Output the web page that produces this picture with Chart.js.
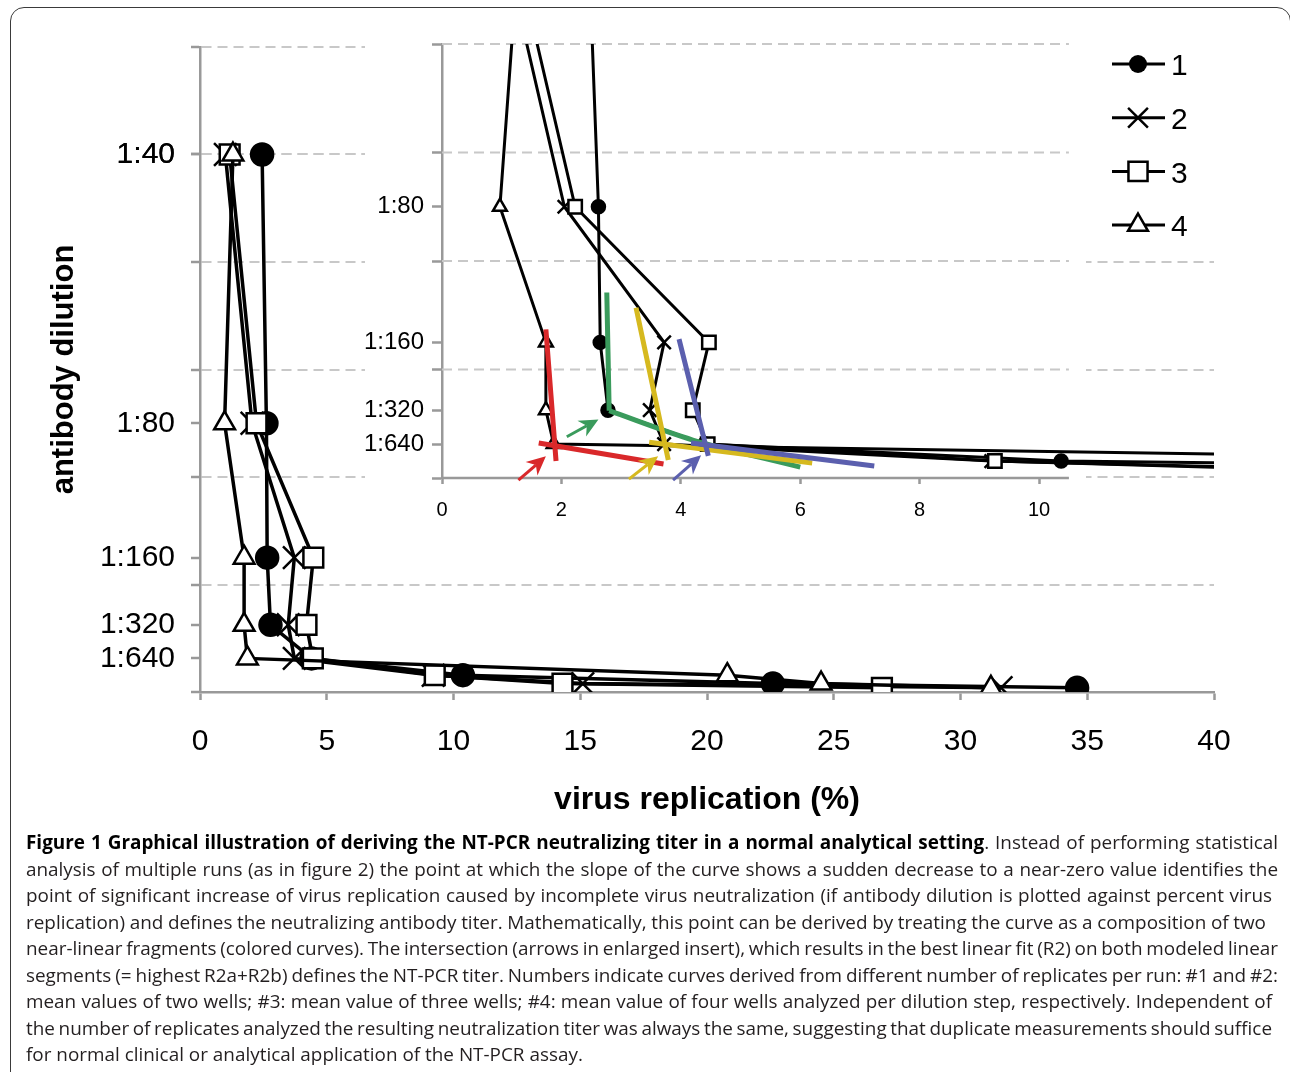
<!DOCTYPE html>
<html>
<head>
<meta charset="utf-8">
<script src="https://cdn.jsdelivr.net/npm/chart.js@4.4.1/dist/chart.umd.min.js"></script>
<style>
  body { margin: 0; background: #fff; width: 1290px; height: 1072px; overflow: hidden; position: relative; }
  #frame { position: absolute; left: 10px; top: 7px; width: 1281px; height: 1120px; border: 1.5px solid #3a3a3a; border-radius: 14px; box-sizing: border-box; }
  #main { position: absolute; left: 0; top: 0; }
  #inset { position: absolute; left: 360px; top: 20px; }
  #caption { position: absolute; left: 26px; top: 829px; font-family: "Open Sans", sans-serif; font-size: 18.9px; line-height: 26.5px; color: #231f20; white-space: nowrap; }
  #caption span { display: inline-block; }
  #caption b { color: #000; }
</style>
</head>
<body>
<div id="frame"></div>
<canvas id="main" width="1290" height="830"></canvas>
<canvas id="inset" width="930" height="520"></canvas>
<div id="caption">
<span data-end="1278"><b>Figure 1 Graphical illustration of deriving the NT-PCR neutralizing titer in a normal analytical setting</b>. Instead of performing statistical</span><br>
<span data-end="1278">analysis of multiple runs (as in figure 2) the point at which the slope of the curve shows a sudden decrease to a near-zero value identifies the</span><br>
<span data-end="1272">point of significant increase of virus replication caused by incomplete virus neutralization (if antibody dilution is plotted against percent virus</span><br>
<span data-end="1266">replication) and defines the neutralizing antibody titer. Mathematically, this point can be derived by treating the curve as a composition of two</span><br>
<span data-end="1278">near-linear fragments (colored curves). The intersection (arrows in enlarged insert), which results in the best linear fit (R2) on both modeled linear</span><br>
<span data-end="1278">segments (= highest R2a+R2b) defines the NT-PCR titer. Numbers indicate curves derived from different number of replicates per run: #1 and #2:</span><br>
<span data-end="1272">mean values of two wells; #3: mean value of three wells; #4: mean value of four wells analyzed per dilution step, respectively. Independent of</span><br>
<span data-end="1272">the number of replicates analyzed the resulting neutralization titer was always the same, suggesting that duplicate measurements should suffice</span><br>
<span>for normal clinical or analytical application of the NT-PCR assay.</span>
</div>
<script>
// dilution steps, plotted as 200 / dilution
const dilutionLabels = ['1:40', '1:80', '1:160', '1:320', '1:640', '1:1280', '1:2560', '1:5120'];
const dilutionValues = [5, 2.5, 1.25, 0.625, 0.3125, 0.15625, 0.078125, 0.0390625];

// virus replication (%) per dilution step, one array per run
const run1 = [2.45, 2.62, 2.65, 2.78, 4.4, 10.37, 22.6, 34.6];
const run2 = [1.0, 2.05, 3.72, 3.48, 3.72, 9.2, 15.1, 31.6];
const run3 = [1.17, 2.23, 4.47, 4.2, 4.45, 9.26, 14.3, 26.9];
const run4 = [1.3, 0.97, 1.74, 1.74, 1.87, 20.8, 24.5, 31.2];
const runNames = ['1', '2', '3', '4'];

const mainXTicks = [0, 5, 10, 15, 20, 25, 30, 35, 40];
const mainYLabels = ['1:40', '1:80', '1:160', '1:320', '1:640'];
const mainGridValues = [0, 1, 2, 3, 4, 5, 6];

const insetXTicks = [0, 2, 4, 6, 8, 10];
const insetYLabels = ['1:80', '1:160', '1:320', '1:640'];
const insetGridValues = [0, 1, 2, 3, 4];

// two near-linear fragments per run, [x, y] in insert coordinates
const fitRedA = [[1.74, 1.37], [1.91, 0.157]];
const fitRedB = [[1.62, 0.323], [3.71, 0.129]];
const fitGreenA = [[2.76, 1.71], [2.8, 0.62]];
const fitGreenB = [[2.8, 0.62], [4.2, 0.35], [6.0, 0.1]];
const fitYellowA = [[3.25, 1.57], [3.79, 0.166]];
const fitYellowB = [[3.47, 0.33], [6.2, 0.138]];
const fitBlueA = [[3.97, 1.28], [4.46, 0.203]];
const fitBlueB = [[4.17, 0.323], [7.24, 0.11]];

// arrows pointing at the intersections
const arrowTails = [[1.28, -0.02], [2.09, 0.38], [3.13, -0.01], [3.87, -0.02]];
const arrowTips = [[1.74, 0.2], [2.62, 0.54], [3.62, 0.2], [4.34, 0.21]];

const RED = '#d9282a';
const GREEN = '#3a9b5c';
const YELLOW = '#d6b91f';
const BLUE = '#5b5fae';
const arrowColors = [RED, GREEN, YELLOW, BLUE];

const FONT = '"Liberation Sans", Arial, sans-serif';
const AXIS = '#999999';
const GRID = '#c8c8c8';

Chart.defaults.font.family = FONT;
Chart.defaults.color = '#000';

const runs = [run1, run2, run3, run4];
const styles = ['circle', 'crossRot', 'rect', 'triangle'];
const fills = ['#000', '#fff', '#fff', '#fff'];
const mainRadius = [11, 16, 14, 12];
const insetRadius = [6.5, 9.5, 9.5, 8];
const legendRadius = [9, 14, 13.5, 11.5];

// stretch or squeeze caption lines to where they end in the printed figure
document.querySelectorAll('#caption span[data-end]').forEach(line => {
  const target = +line.dataset.end - 26;
  const spaces = (line.textContent.match(/ /g) || []).length;
  const extra = target - line.getBoundingClientRect().width;
  if (spaces) line.style.wordSpacing = (extra / spaces) + 'px';
});

function toPoints(xs) {
  return xs.map((v, i) => ({ x: v, y: dilutionValues[i] }));
}

function pairPoints(list) {
  return list.map(p => ({ x: p[0], y: p[1] }));
}

function labelFor(value, shown) {
  const i = dilutionValues.indexOf(value);
  if (i < 0) return '';
  return shown.includes(dilutionLabels[i]) ? dilutionLabels[i] : '';
}

function tickValues(shown, grid) {
  const vals = grid.slice();
  shown.forEach(l => vals.push(dilutionValues[dilutionLabels.indexOf(l)]));
  return vals.sort((a, b) => a - b).map(v => ({ value: v }));
}

function runDatasets(radius, width) {
  // last run first so it is drawn on top
  return [3, 2, 1, 0].map(i => ({
    label: runNames[i],
    data: toPoints(runs[i]),
    showLine: true,
    borderColor: '#000',
    borderWidth: width,
    pointStyle: styles[i],
    pointRadius: radius[i],
    pointBackgroundColor: fills[i],
    pointBorderColor: '#000',
    pointBorderWidth: 2.5,
    tension: 0
  }));
}

// ---- main chart ----
new Chart(document.getElementById('main'), {
  type: 'scatter',
  data: { datasets: runDatasets(mainRadius, 3.5) },
  options: {
    responsive: false,
    animation: false,
    events: [],
    layout: { padding: { left: 0, right: 76, top: 47, bottom: 0 } },
    plugins: { legend: { display: false }, tooltip: { enabled: false } },
    scales: {
      x: {
        type: 'linear', min: 0, max: 40,
        afterBuildTicks: s => { s.ticks = mainXTicks.map(v => ({ value: v })); },
        afterFit: s => { s.height = 138; },
        ticks: { font: { size: 30 }, padding: 24, maxRotation: 0 },
        grid: { drawOnChartArea: false, tickColor: AXIS, tickLength: 8, tickWidth: 2.5 },
        border: { color: AXIS, width: 2.5 },
        title: { display: true, text: 'virus replication (%)', font: { size: 32, weight: 'bold' }, padding: { top: 0, bottom: 11 } }
      },
      y: {
        type: 'linear', min: 0, max: 6,
        afterBuildTicks: s => { s.ticks = tickValues(mainYLabels, mainGridValues); },
        afterFit: s => { s.width = 200; },
        ticks: { autoSkip: false, font: { size: 30 }, padding: 16, callback: v => labelFor(v, mainYLabels) },
        grid: {
          color: c => (c.tick && Number.isInteger(c.tick.value) && c.tick.value > 0) ? GRID : 'rgba(0,0,0,0)',
          lineWidth: 2, tickColor: AXIS, tickLength: 9, tickWidth: 2.5
        },
        border: { color: AXIS, width: 2.5, dash: [10, 6] },
        title: { display: true, text: 'antibody dilution', font: { size: 31, weight: 'bold' }, padding: { top: 46, bottom: 0 } }
      }
    }
  }
});

// ---- enlarged insert ----
function drawMarker(ctx, style, cx, cy, r, fill) {
  ctx.save();
  ctx.fillStyle = fill;
  ctx.strokeStyle = '#000';
  ctx.lineWidth = 2.5;
  ctx.beginPath();
  if (style === 'circle') {
    ctx.arc(cx, cy, r, 0, Math.PI * 2);
    ctx.fill();
  } else if (style === 'rect') {
    const s = r * Math.SQRT1_2;
    ctx.rect(cx - s, cy - s, 2 * s, 2 * s);
    ctx.fill();
    ctx.stroke();
  } else if (style === 'triangle') {
    let a = 0;
    ctx.moveTo(cx + Math.sin(a) * r, cy - Math.cos(a) * r);
    a += Math.PI * 2 / 3;
    ctx.lineTo(cx + Math.sin(a) * r, cy - Math.cos(a) * r);
    a += Math.PI * 2 / 3;
    ctx.lineTo(cx + Math.sin(a) * r, cy - Math.cos(a) * r);
    ctx.closePath();
    ctx.fill();
    ctx.stroke();
  } else {
    const d = r * Math.SQRT1_2;
    ctx.moveTo(cx - d, cy - d); ctx.lineTo(cx + d, cy + d);
    ctx.moveTo(cx + d, cy - d); ctx.lineTo(cx - d, cy + d);
    ctx.stroke();
  }
  ctx.restore();
}

const insetDecor = {
  id: 'insetDecor',
  beforeDraw(chart) {
    const ctx = chart.ctx;
    ctx.save();
    ctx.fillStyle = '#fff';
    ctx.fillRect(5, 10, 721, 500);   // insert box
    ctx.fillRect(726, 10, 128, 230); // legend box
    ctx.restore();
  },
  beforeDatasetsDraw(chart) {
    const { ctx, scales: { x, y } } = chart;
    const x0 = x.getPixelForValue(0);
    const x1 = x.getPixelForValue(10.5);
    ctx.save();
    ctx.strokeStyle = GRID;
    ctx.lineWidth = 2;
    ctx.setLineDash([10, 6]);
    insetGridValues.filter(v => v > 0).forEach(v => {
      const py = y.getPixelForValue(v);
      ctx.beginPath(); ctx.moveTo(x0, py); ctx.lineTo(x1, py); ctx.stroke();
    });
    ctx.setLineDash([]);
    ctx.strokeStyle = AXIS;
    ctx.lineWidth = 2.5;
    const py0 = y.getPixelForValue(0);
    ctx.beginPath(); ctx.moveTo(x0, py0); ctx.lineTo(x1, py0); ctx.stroke();
    ctx.restore();
  },
  afterDatasetsDraw(chart) {
    const { ctx, scales: { x, y } } = chart;
    ctx.save();
    arrowTails.forEach((t, i) => {
      const tx = x.getPixelForValue(t[0]), ty = y.getPixelForValue(t[1]);
      const hx = x.getPixelForValue(arrowTips[i][0]), hy = y.getPixelForValue(arrowTips[i][1]);
      const ang = Math.atan2(hy - ty, hx - tx);
      const len = 19, half = 9;
      const bx = hx - Math.cos(ang) * len, by = hy - Math.sin(ang) * len;
      const nx = hx - Math.cos(ang) * len * 0.7, ny = hy - Math.sin(ang) * len * 0.7;
      ctx.strokeStyle = arrowColors[i];
      ctx.fillStyle = arrowColors[i];
      ctx.lineWidth = 3;
      ctx.beginPath(); ctx.moveTo(tx, ty); ctx.lineTo(nx, ny); ctx.stroke();
      ctx.beginPath();
      ctx.moveTo(hx, hy);
      ctx.lineTo(bx - Math.sin(ang) * half, by + Math.cos(ang) * half);
      ctx.lineTo(nx, ny);
      ctx.lineTo(bx + Math.sin(ang) * half, by - Math.cos(ang) * half);
      ctx.closePath();
      ctx.fill();
    });
    ctx.restore();
  },
  afterDraw(chart) {
    const ctx = chart.ctx;
    ctx.save();
    runNames.forEach((name, i) => {
      const cy = 44 + i * 53.7;
      ctx.strokeStyle = '#000';
      ctx.lineWidth = 3;
      ctx.beginPath(); ctx.moveTo(752, cy); ctx.lineTo(805, cy); ctx.stroke();
      drawMarker(ctx, styles[i], 778, cy, legendRadius[i], fills[i]);
      ctx.fillStyle = '#000';
      ctx.font = '30px ' + FONT;
      ctx.textBaseline = 'middle';
      ctx.fillText(name, 811, cy + 3);
    });
    ctx.restore();
  }
};

function fitDataset(points, color) {
  return {
    data: pairPoints(points),
    showLine: true,
    borderColor: color,
    borderWidth: 5,
    pointRadius: 0,
    tension: 0.3
  };
}

new Chart(document.getElementById('inset'), {
  type: 'scatter',
  data: {
    datasets: [
      fitDataset(fitBlueA, BLUE), fitDataset(fitBlueB, BLUE),
      fitDataset(fitYellowA, YELLOW), fitDataset(fitYellowB, YELLOW),
      fitDataset(fitGreenA, GREEN), fitDataset(fitGreenB, GREEN),
      fitDataset(fitRedA, RED), fitDataset(fitRedB, RED)
    ].concat(runDatasets(insetRadius, 3))
  },
  plugins: [insetDecor],
  options: {
    responsive: false,
    animation: false,
    events: [],
    layout: { padding: { left: 0, right: 76, top: 24, bottom: 0 } },
    plugins: { legend: { display: false }, tooltip: { enabled: false } },
    scales: {
      x: {
        type: 'linear', min: 0, max: 12.93,
        afterBuildTicks: s => { s.ticks = insetXTicks.map(v => ({ value: v })); },
        afterFit: s => { s.height = 62; },
        ticks: { font: { size: 20 }, padding: 14, maxRotation: 0 },
        grid: { drawOnChartArea: false, tickColor: AXIS, tickLength: 6, tickWidth: 2.5 },
        border: { display: false }
      },
      y: {
        type: 'linear', min: 0, max: 4,
        afterBuildTicks: s => { s.ticks = tickValues(insetYLabels, insetGridValues); },
        afterFit: s => { s.width = 82; },
        ticks: { autoSkip: false, font: { size: 24 }, padding: 8, callback: v => labelFor(v, insetYLabels) },
        grid: { drawOnChartArea: false, tickColor: AXIS, tickLength: 10, tickWidth: 2.5 },
        border: { color: AXIS, width: 2.5 }
      }
    }
  }
});
</script>
</body>
</html>
